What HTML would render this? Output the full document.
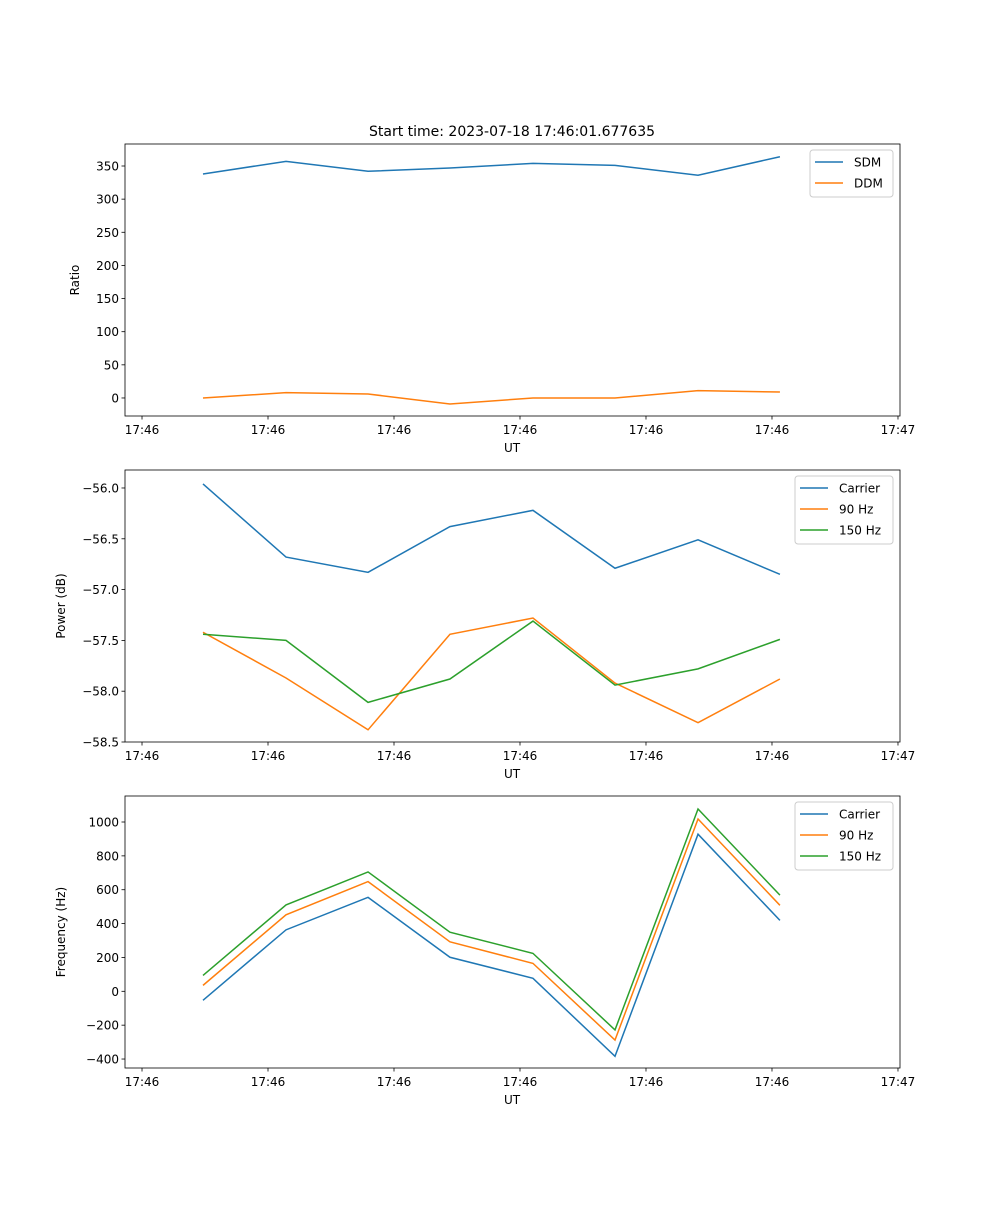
<!DOCTYPE html>
<html><head><meta charset="utf-8"><style>
body{margin:0;background:#fff}
svg text{font-family:"DejaVu Sans","Liberation Sans",sans-serif;fill:#000}
</style></head><body>
<svg id="fig" width="1000" height="1200" xmlns="http://www.w3.org/2000/svg">
<text x="512" y="136" font-size="14" text-anchor="middle">Start time: 2023-07-18 17:46:01.677635</text>
</svg>
<script>
const times = [4.84, 11.43, 17.94, 24.44, 31.03, 37.54, 44.13, 50.63];
const xTicks = [0, 10, 20, 30, 40, 50, 60];
const xTickLabels = ["17:46","17:46","17:46","17:46","17:46","17:46","17:47"];
const sdm = [338, 357, 342, 347, 354, 351, 336, 364];
const ddm = [0, 8, 6, -9, 0, 0, 11, 9];
const powCarrier = [-55.96, -56.68, -56.83, -56.38, -56.22, -56.79, -56.51, -56.85];
const pow90 = [-57.42, -57.87, -58.38, -57.44, -57.28, -57.92, -58.31, -57.88];
const pow150 = [-57.44, -57.50, -58.11, -57.88, -57.31, -57.94, -57.78, -57.49];
const freqCarrier = [-53, 363, 555, 201, 77, -384, 928, 419];
const freq90 = [35, 452, 648, 292, 165, -288, 1018, 508];
const freq150 = [94, 510, 705, 349, 224, -228, 1077, 568];
const ticks1 = [0, 50, 100, 150, 200, 250, 300, 350];
const ticks2 = [-58.5, -58.0, -57.5, -57.0, -56.5, -56.0];
const ticks3 = [-400, -200, 0, 200, 400, 600, 800, 1000];

const svg = document.getElementById('fig');
const NS = 'http://www.w3.org/2000/svg';
function mk(tag, attrs, parent){const e=document.createElementNS(NS,tag);for(const k in attrs)e.setAttribute(k,attrs[k]);(parent||svg).appendChild(e);return e;}
const L=125,R=900,xMin=-1.35,xMax=60.16;
const X=v=>L+(v-xMin)/(xMax-xMin)*(R-L);
const colors=['#1f77b4','#ff7f0e','#2ca02c'];

function panel(name,top,bot,yMin,yMax,yticks,fmt,ylabel,series,labels,legW){
  const Y=v=>bot-(v-yMin)/(yMax-yMin)*(bot-top);
  const g=mk('g',{});
  
  
  series.forEach((s,i)=>{
    const p=mk('polyline',{points:s.map((v,j)=>X(times[j])+','+Y(v)).join(' '),fill:'none',stroke:colors[i],'stroke-width':1.5},g);
    
    
  });
  const fr=mk('rect',{x:L,y:top,width:R-L,height:bot-top,fill:'none',stroke:'#000','stroke-width':0.8},g);
  
  
  xTicks.forEach((t,i)=>{
    mk('line',{x1:X(t),x2:X(t),y1:bot,y2:bot+3.5,stroke:'#000','stroke-width':0.8},g);
    const tx=mk('text',{x:X(t),y:bot+18,'font-size':12,'text-anchor':'middle'},g);
    tx.textContent=xTickLabels[i];
    
    
  });
  yticks.forEach(t=>{
    mk('line',{x1:L-3.5,x2:L,y1:Y(t),y2:Y(t),stroke:'#000','stroke-width':0.8},g);
    const tx=mk('text',{x:L-6,y:Y(t)+4.5,'font-size':12,'text-anchor':'end'},g);
    tx.textContent=fmt(t);
    
    
  });
  const xl=mk('text',{x:512,y:bot+36,'font-size':12,'text-anchor':'middle'},g);
  xl.textContent='UT';
  
  
  const yx=ylabel==='Ratio'?79:65;
  const yl=mk('text',{x:yx,y:(top+bot)/2,'font-size':12,'text-anchor':'middle',transform:`rotate(-90 ${yx} ${(top+bot)/2})`},g);
  yl.textContent=ylabel;
  
  
  const lx=R-7-legW, ly=top+6;
  const lg=mk('g',{},g);
  
  
  mk('rect',{x:lx,y:ly,width:legW,height:labels.length*21+5,rx:3,fill:'#fff','fill-opacity':0.8,stroke:'#ccc'},lg);
  labels.forEach((lab,i)=>{
    const yy=ly+12+i*21;
    mk('line',{x1:lx+5,x2:lx+33,y1:yy,y2:yy,stroke:colors[i],'stroke-width':1.5},lg);
    const t=mk('text',{x:lx+44,y:yy+4.5,'font-size':12},lg);
    t.textContent=lab;
    
    
  });
}
panel('ratio-panel',144,416,-27.2,383.2,ticks1,v=>String(v),'Ratio',[sdm,ddm],['SDM','DDM'],83);
panel('power-panel',470,742,-58.5,-55.823,ticks2,v=>'\u2212'+Math.abs(v).toFixed(1),'Power (dB)',[powCarrier,pow90,pow150],['Carrier','90 Hz','150 Hz'],98);
panel('frequency-panel',796,1068,-453,1153.6,ticks3,v=>(v<0?'\u2212':'')+Math.abs(v),'Frequency (Hz)',[freqCarrier,freq90,freq150],['Carrier','90 Hz','150 Hz'],98);
</script>
</body></html>
